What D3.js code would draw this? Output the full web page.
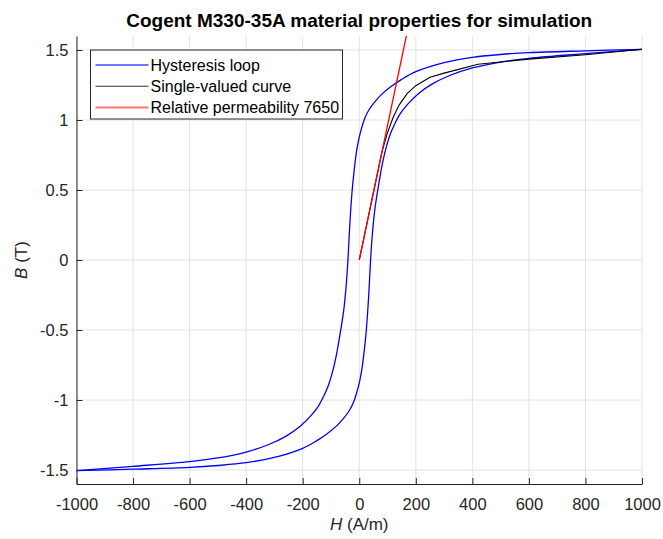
<!DOCTYPE html>
<html>
<head>
<meta charset="utf-8">
<script src="https://cdn.jsdelivr.net/npm/d3@7"></script>
<style>
    body { margin: 0; background: #fff; }
    #chart-area { width: 663px; height: 539px; }
    text { font-family: "Liberation Sans", Arial, sans-serif; }
</style>
</head>
<body>
<div id="chart-area"></div>
<script>

// lower (ascending) branch of the loop
let lowerH = [-1000, -800, -600, -500, -400, -300, -200, -150, -110, -80, -55, -35, -20, -8, 2, 10, 18, 25, 33, 40, 47, 55, 68, 82, 96, 110, 125, 145, 170, 210, 260, 320, 400, 500, 600, 800, 1000];
let lowerB = [-1.505, -1.494, -1.481, -1.468, -1.448, -1.41, -1.345, -1.29, -1.235, -1.185, -1.13, -1.075, -1.015, -0.94, -0.86, -0.77, -0.64, -0.5, -0.27, 0, 0.2, 0.36, 0.53, 0.69, 0.81, 0.9, 0.97, 1.045, 1.11, 1.19, 1.26, 1.318, 1.372, 1.414, 1.44, 1.474, 1.505];

// upper (descending) branch
let upperH = [1000, 800, 600, 500, 400, 300, 200, 150, 110, 80, 55, 35, 20, 8, -2, -10, -18, -25, -33, -40, -47, -55, -68, -82, -96, -110, -125, -145, -170, -210, -260, -320, -400, -500, -600, -800, -1000];
let upperB = [1.505, 1.494, 1.481, 1.468, 1.448, 1.41, 1.345, 1.29, 1.235, 1.185, 1.13, 1.075, 1.015, 0.94, 0.86, 0.77, 0.64, 0.5, 0.27, 0, -0.2, -0.36, -0.53, -0.69, -0.81, -0.9, -0.97, -1.045, -1.11, -1.19, -1.26, -1.318, -1.372, -1.414, -1.44, -1.474, -1.505];

// single-valued curve
let singleH = [0, 40, 80, 100, 120, 142, 170, 200, 250, 300, 420, 600, 800, 1000];
let singleB = [0, 0.385, 0.77, 0.91, 1.02, 1.11, 1.19, 1.245, 1.305, 1.335, 1.398, 1.435, 1.466, 1.505];

// straight line with relative permeability 7650
let muR = 7650;
let mu0 = 4e-7 * Math.PI;
let lineH = [0, 200];

let xTicks = [-1000, -800, -600, -400, -200, 0, 200, 400, 600, 800, 1000];
let yTicks = [-1.5, -1, -0.5, 0, 0.5, 1, 1.5];

let legendLabels = ["Hysteresis loop", "Single-valued curve", "Relative permeability 7650"];
let legendColors = ["#0000ff", "#000000", "#ff0000"];

class BHCurveVis {
    constructor(_parentElement) {
        this.parentElement = _parentElement;
        this.initVis();
    }

    initVis() {
        let vis = this;

        vis.margin = {top: 36, right: 21, bottom: 55, left: 76.5};
        vis.width = 663 - vis.margin.left - vis.margin.right;
        vis.height = 539 - vis.margin.top - vis.margin.bottom;

        vis.svg = d3.select("#" + vis.parentElement).append("svg")
            .attr("width", 663)
            .attr("height", 539)
            .append("g")
            .attr("transform", "translate(" + vis.margin.left + "," + vis.margin.top + ")");

        vis.x = d3.scaleLinear()
            .domain([-1000, 1000])
            .range([0, vis.width]);

        vis.y = d3.scaleLinear()
            .domain([-1.6, 1.6])
            .range([vis.height, 0]);

        vis.svg.append("clipPath")
            .attr("id", "plot-clip")
            .append("rect")
            .attr("width", vis.width)
            .attr("height", vis.height);

        // grid
        vis.svg.append("g")
            .attr("class", "grid")
            .selectAll("line.vgrid")
            .data(xTicks)
            .enter().append("line")
            .attr("x1", d => vis.x(d)).attr("x2", d => vis.x(d))
            .attr("y1", 0).attr("y2", vis.height)
            .attr("stroke", "#e2e2e2");

        vis.svg.select(".grid")
            .selectAll("line.hgrid")
            .data(yTicks)
            .enter().append("line")
            .attr("x1", 0).attr("x2", vis.width)
            .attr("y1", d => vis.y(d)).attr("y2", d => vis.y(d))
            .attr("stroke", "#e2e2e2");

        // axes, ticks pointing inside like matlab
        vis.xAxis = d3.axisBottom(vis.x)
            .tickValues(xTicks)
            .tickSizeInner(-6)
            .tickSizeOuter(0)
            .tickPadding(14)
            .tickFormat(d => String(d));

        vis.yAxis = d3.axisLeft(vis.y)
            .tickValues(yTicks)
            .tickSizeInner(-6)
            .tickSizeOuter(0)
            .tickPadding(8)
            .tickFormat(d => String(d));

        vis.svg.append("g")
            .attr("class", "x-axis axis")
            .attr("transform", `translate(0,${vis.height})`)
            .call(vis.xAxis);

        vis.svg.append("g")
            .attr("class", "y-axis axis")
            .call(vis.yAxis);

        vis.svg.selectAll(".axis path, .axis line")
            .attr("stroke", "#262626");
        vis.svg.selectAll(".axis text")
            .attr("fill", "#262626")
            .style("font-size", "16.5px");

        // titles
        vis.svg.append("text")
            .attr("x", vis.width / 2)
            .attr("y", -9)
            .attr("text-anchor", "middle")
            .style("font-size", "19px")
            .style("font-weight", "bold")
            .attr("fill", "#000")
            .text("Cogent M330-35A material properties for simulation");

        let xLabel = vis.svg.append("text")
            .attr("x", vis.width / 2)
            .attr("y", vis.height + 46)
            .attr("text-anchor", "middle")
            .style("font-size", "17px")
            .attr("fill", "#262626");
        xLabel.append("tspan").style("font-style", "italic").text("H");
        xLabel.append("tspan").text(" (A/m)");

        let yLabel = vis.svg.append("text")
            .attr("transform", `translate(-55,${vis.height / 2}) rotate(-90)`)
            .attr("text-anchor", "middle")
            .attr("dy", "0.35em")
            .style("font-size", "17px")
            .attr("fill", "#262626");
        yLabel.append("tspan").style("font-style", "italic").text("B");
        yLabel.append("tspan").text(" (T)");

        vis.wrangleData();
    }

    wrangleData() {
        let vis = this;
        vis.lower = lowerH.map((h, i) => ({h: h, b: lowerB[i]}));
        vis.upper = upperH.map((h, i) => ({h: h, b: upperB[i]}));
        vis.single = singleH.map((h, i) => ({h: h, b: singleB[i]}));
        vis.perm = lineH.map(h => ({h: h, b: mu0 * muR * h}));
        vis.updateVis();
    }

    updateVis() {
        let vis = this;

        let smooth = d3.line()
            .x(d => vis.x(d.h))
            .y(d => vis.y(d.b))
            .curve(d3.curveCatmullRom.alpha(0.5));

        let straight = d3.line()
            .x(d => vis.x(d.h))
            .y(d => vis.y(d.b));

        let plot = vis.svg.append("g")
            .attr("clip-path", "url(#plot-clip)");

        plot.selectAll("path.loop")
            .data([vis.lower, vis.upper])
            .enter().append("path")
            .attr("class", "loop")
            .attr("d", smooth)
            .attr("fill", "none")
            .attr("stroke", legendColors[0])
            .attr("stroke-width", 1.3);

        plot.append("path")
            .datum(vis.single)
            .attr("d", straight)
            .attr("fill", "none")
            .attr("stroke", legendColors[1])
            .attr("stroke-width", 1.1);

        plot.append("path")
            .datum(vis.perm)
            .attr("d", straight)
            .attr("fill", "none")
            .attr("stroke", legendColors[2])
            .attr("stroke-width", 1.3);

        // legend
        let legend = vis.svg.append("g")
            .attr("transform", "translate(14,14)");

        legend.append("rect")
            .attr("width", 252)
            .attr("height", 69)
            .attr("fill", "#fff")
            .attr("stroke", "#262626");

        let rows = legend.selectAll("g.row")
            .data(legendLabels)
            .enter().append("g")
            .attr("class", "row")
            .attr("transform", (d, i) => `translate(0,${15 + i * 21.25})`);

        rows.append("line")
            .attr("x1", 5).attr("x2", 58)
            .attr("stroke", (d, i) => legendColors[i])
            .attr("stroke-width", (d, i) => i == 1 ? 1.2 : 2)
            .attr("stroke-opacity", (d, i) => i == 1 ? 0.8 : 0.55);

        rows.append("text")
            .attr("x", 60)
            .attr("dy", "0.35em")
            .style("font-size", "16px")
            .attr("fill", "#000")
            .text(d => d);
    }
}

let bhVis = new BHCurveVis("chart-area");
</script>
</body>
</html>
